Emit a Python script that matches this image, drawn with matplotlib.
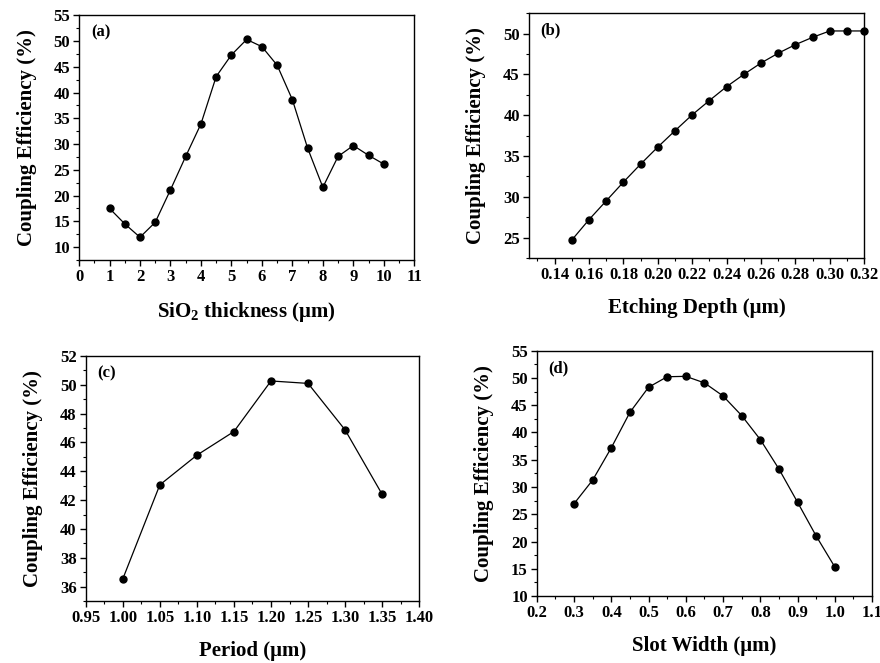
import matplotlib
matplotlib.use("Agg")
import matplotlib.pyplot as plt
from matplotlib.ticker import MultipleLocator, FormatStrFormatter

plt.rcParams['font.family'] = ['Liberation Serif', 'DejaVu Serif']
plt.rcParams['font.weight'] = 'bold'
plt.rcParams['mathtext.fontset'] = 'custom'
plt.rcParams['mathtext.rm'] = 'Liberation Serif:bold'
plt.rcParams['mathtext.bf'] = 'Liberation Serif:bold'
plt.rcParams['mathtext.default'] = 'bf'

# (a) SiO2 thickness
sio2_thickness = [1, 1.5, 2, 2.5, 3, 3.5, 4, 4.5, 5, 5.5, 6, 6.5, 7, 7.5, 8, 8.5, 9, 9.5, 10]
eff_a = [17.5, 14.5, 11.9, 14.8, 21.1, 27.6, 33.9, 43.1, 47.3, 50.3, 48.9, 45.3, 38.6, 29.2,
         21.6, 27.6, 29.7, 27.8, 26.1]

# (b) Etching depth
etch_depth = [0.15, 0.16, 0.17, 0.18, 0.19, 0.20, 0.21, 0.22, 0.23, 0.24, 0.25, 0.26,
              0.27, 0.28, 0.29, 0.30, 0.31, 0.32]
eff_b = [24.7, 27.2, 29.5, 31.8, 34.0, 36.1, 38.1, 40.05, 41.8, 43.5, 45.0, 46.4,
         47.6, 48.65, 49.55, 50.33, 50.33, 50.33]

# (c) Period
period = [1.00, 1.05, 1.10, 1.15, 1.20, 1.25, 1.30, 1.35]
eff_c = [36.53, 43.06, 45.12, 46.76, 50.27, 50.1, 46.87, 42.4]

# (d) Slot width
slot_width = [0.30, 0.35, 0.40, 0.45, 0.50, 0.55, 0.60, 0.65, 0.70, 0.75, 0.80, 0.85,
              0.90, 0.95, 1.00]
eff_d = [26.94, 31.28, 37.2, 43.7, 48.3, 50.23, 50.3, 49.1, 46.7, 43.1, 38.7, 33.3,
         27.2, 21.0, 15.33]

fig = plt.figure(figsize=(8.8, 6.63), dpi=100)

panels = [
    dict(rect=[0.0898, 0.608, 0.381, 0.369], x=sio2_thickness, y=eff_a, tag='(a)',
         xlabel=r'SiO$_2$ thickness (μm)', xlim=(0, 11), ylim=(7.5, 55),
         xmaj=1, xmin=0.5, ymaj=5, ymin=2.5, xfmt='%d', yfmt='%d'),
    dict(rect=[0.601, 0.611, 0.381, 0.369], x=etch_depth, y=eff_b, tag='(b)',
         xlabel='Etching Depth (μm)', xlim=(0.125, 0.32), ylim=(22.5, 52.5),
         xmaj=0.02, xmin=0.01, ymaj=5, ymin=2.5, xfmt='%.2f', yfmt='%d'),
    dict(rect=[0.0974, 0.0935, 0.379, 0.3695], x=period, y=eff_c, tag='(c)',
         xlabel='Period (μm)', xlim=(0.95, 1.40), ylim=(35, 52),
         xmaj=0.05, xmin=0.025, ymaj=2, ymin=1, xfmt='%.2f', yfmt='%d'),
    dict(rect=[0.610, 0.101, 0.381, 0.370], x=slot_width, y=eff_d, tag='(d)',
         xlabel='Slot Width (μm)', xlim=(0.2, 1.1), ylim=(10, 55),
         xmaj=0.1, xmin=0.05, ymaj=5, ymin=2.5, xfmt='%.1f', yfmt='%d'),
]

for p in panels:
    ax = fig.add_axes(p['rect'])
    ax.plot(p['x'], p['y'], color='black', lw=0.9, marker='o', ms=5,
            markerfacecolor='black', markeredgecolor='black', clip_on=False)
    ax.set_xlim(*p['xlim'])
    ax.set_ylim(*p['ylim'])
    ax.xaxis.set_major_locator(MultipleLocator(p['xmaj']))
    ax.xaxis.set_minor_locator(MultipleLocator(p['xmin']))
    ax.yaxis.set_major_locator(MultipleLocator(p['ymaj']))
    ax.yaxis.set_minor_locator(MultipleLocator(p['ymin']))
    ax.xaxis.set_major_formatter(FormatStrFormatter(p['xfmt']))
    ax.yaxis.set_major_formatter(FormatStrFormatter(p['yfmt']))
    ax.tick_params(axis='both', which='major', direction='out', length=4, width=1,
                   labelsize=12, pad=2.5)
    ax.tick_params(axis='both', which='minor', direction='out', length=2.5, width=0.8)
    ax.tick_params(top=False, right=False)
    for lab in ax.get_xticklabels() + ax.get_yticklabels():
        lab.set_fontweight('bold')
    for s in ax.spines.values():
        s.set_linewidth(1.0)
    ax.set_xlabel(p['xlabel'], fontsize=15, fontweight='bold', labelpad=11)
    ax.set_ylabel('Coupling Efficiency (%)', fontsize=15, fontweight='bold', labelpad=12)
    ax.text(0.035, 0.93, p['tag'], transform=ax.transAxes, fontsize=12,
            fontweight='bold', ha='left', va='center')

fig.savefig('out.png', dpi=100)
